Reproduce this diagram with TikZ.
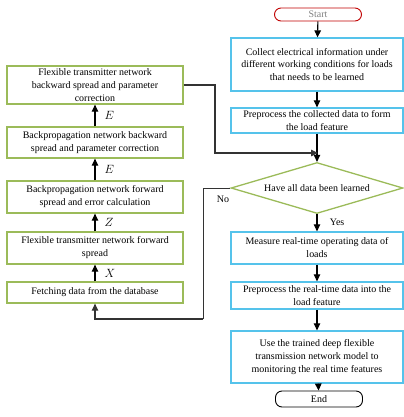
\documentclass[tikz,border=0pt]{standalone}
\usepackage{fontspec}
\setmainfont{Liberation Serif}
\usepackage{xcolor}
\usepackage{tikz}
\usetikzlibrary{arrows.meta,shapes.geometric}

\definecolor{boxgreen}{RGB}{155,187,89}
\definecolor{boxblue}{RGB}{85,195,235}
\definecolor{startred}{RGB}{192,0,0}

\begin{document}
\begin{tikzpicture}[
x=1bp,
y=-1bp,
every node/.style={font=\fontsize{10}{13}\selectfont},
trainbox/.style={rectangle,draw=boxgreen,line width=1.3bp,align=center,inner sep=1pt,minimum width=176bp},
flowbox/.style={rectangle,draw=boxblue,line width=1.3bp,align=center,inner sep=1pt,minimum width=172bp},
flowend/.style={rectangle,rounded corners=6.5bp,draw,line width=0.9bp,align=center,inner sep=1pt,minimum width=87bp},
flowcheck/.style={diamond,draw=boxgreen,line width=1.3bp,aspect=3.4,inner sep=0pt,minimum width=172bp,minimum height=51bp},
flowarr/.style={-{Triangle[length=7bp,width=6.5bp]},line width=1.1bp},
flowline/.style={line width=0.9bp,draw=black!80},
flowlbl/.style={font=\fontsize{11.5}{12}\selectfont,inner sep=0pt}
]
\useasboundingbox (0,0) rectangle (404,417);

\node[flowend,draw=startred,minimum height=13bp,text=gray] (start) at (318,14.5) {Start};
\node[flowbox,minimum height=53bp] (collect) at (317,64.5) {Collect electrical information under\\different working conditions for loads\\that needs to be learned};
\node[flowbox,minimum height=25bp] (prep1) at (317,120.5) {Preprocess the collected data to form\\the load feature};
\node[flowcheck] (learned) at (317,188) {Have all data been learned};
\node[flowbox,minimum height=32bp] (measure) at (317,248) {Measure real-time operating data of\\loads};
\node[flowbox,minimum height=27bp] (prep2) at (317,295.5) {Preprocess the real-time data into the\\load feature};
\node[flowbox,minimum height=52bp] (monitor) at (317,357) {Use the trained deep flexible\\transmission network model to\\monitoring the real time features};
\node[flowend,minimum height=16bp] (end) at (319,399) {End};

\node[trainbox,minimum height=38bp] (fb) at (95,85) {Flexible transmitter network\\backward spread and parameter\\correction};
\node[trainbox,minimum height=31bp] (bb) at (95,142.5) {Backpropagation network backward\\spread and parameter correction};
\node[trainbox,minimum height=32bp] (bf) at (95,197) {Backpropagation network forward\\spread and error calculation};
\node[trainbox,minimum height=32bp] (ff) at (95,248) {Flexible transmitter network forward\\spread};
\node[trainbox,minimum height=21bp] (fetch) at (95,292.5) {Fetching data from the database};

\coordinate (merge) at (318,153);
\coordinate (nocorner) at (203,188);
\coordinate (nobottom) at (203,319);

\draw[flowarr] (start) -- (collect);
\draw[flowarr] (collect) -- (prep1);
\draw[flowarr] (prep1) -- (learned);
\draw[flowarr] (learned) -- node[right=9bp,pos=.45]{Yes} (measure);
\draw[flowarr] (measure) -- (prep2);
\draw[flowarr] (prep2) -- (monitor);
\draw[flowarr] (monitor) -- (end);

\draw[flowarr] (fetch) -- node[flowlbl,right=9bp]{\(X\)} (ff);
\draw[flowarr] (ff) -- node[flowlbl,right=9bp]{\(Z\)} (bf);
\draw[flowarr] (bf) -- node[flowlbl,right=9bp]{\(E\)} (bb);
\draw[flowarr] (bb) -- node[flowlbl,right=9bp]{\(E\)} (fb);

\draw[flowline,flowarr] (fb.east) -| (215,153) -- (merge);
\draw[flowline] (learned.west) -- (nocorner) -- (nobottom);
\draw[flowline,flowarr] (nobottom) -| (fetch.south);
\node at (223,199) {No};
\end{tikzpicture}
\end{document}
